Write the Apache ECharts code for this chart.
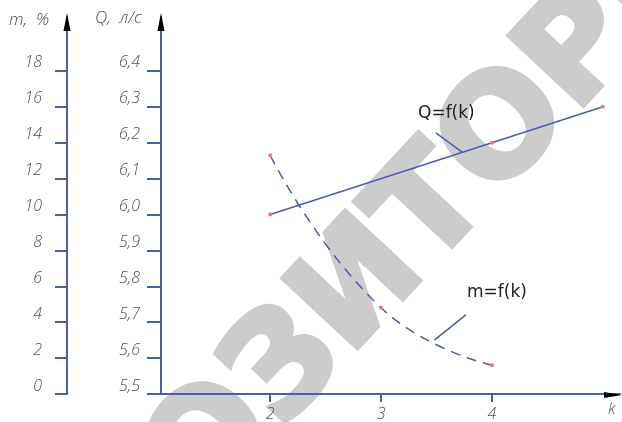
<!DOCTYPE html>
<html>
<head>
<meta charset="utf-8">
<script src="https://cdn.jsdelivr.net/npm/echarts@6/dist/echarts.min.js"></script>
<style>
  html, body { margin: 0; padding: 0; background: #ffffff; }
  #chart { width: 622px; height: 422px; }
</style>
</head>
<body>
<div id="chart"></div>
<script>
// Coefficient k (abscissa)
const kTicks = [2, 3, 4];
// Flow rate Q, l/s, against k
const qK = [2, 4, 5];
const qValues = [6.0, 6.2, 6.3];
// Share m, %, against k
const mK = [2, 3, 4];
const mValues = [13.3, 4.8, 1.6];
// Axis tick values
const qTicks = [5.5, 5.6, 5.7, 5.8, 5.9, 6.0, 6.1, 6.2, 6.3, 6.4];
const mTicks = [0, 2, 4, 6, 8, 10, 12, 14, 16, 18];

// Leader lines for the curve captions, in data coordinates
const qLeader = [[3.494, 6.227], [3.734, 6.173]];
const mLeader = [[3.764, 4.41], [3.481, 3.0]];

const BLUE = '#4a5cb0';
const MARK = '#f07878';
const TXT = '#505050';
const LABEL_FONT = { fontFamily: 'Open Sans', fontStyle: 'italic', fontWeight: 300, fontSize: 16, color: TXT };

const GRID = { left: 161, right: 2, top: 17, bottom: 27 };
const W = 622, H = 422;
const axisBottom = H - GRID.bottom;

const pairs = (xs, ys) => xs.map((x, i) => [x, ys[i]]);
const comma = v => String(v).replace('.', ',');

const chart = echarts.init(document.getElementById('chart'), null, { renderer: 'canvas' });

const arrowUp = (x, y) => ({
  type: 'polygon', z: 100,
  shape: { points: [[x, y - 2], [x - 3.5, y + 16], [x + 3.5, y + 16]] },
  style: { fill: '#000' }
});
const arrowRight = (x, y) => ({
  type: 'polygon', z: 100,
  shape: { points: [[x + 2, y], [x - 16, y - 3], [x - 16, y + 3]] },
  style: { fill: '#000' }
});

chart.setOption({
  animation: false,
  backgroundColor: '#ffffff',
  grid: GRID,
  xAxis: {
    type: 'value',
    min: 1.015, max: 5.155,
    splitLine: { show: false },
    axisLine: { lineStyle: { color: BLUE, width: 2 } },
    axisTick: { show: true, length: 8, lineStyle: { color: BLUE, width: 2 }, customValues: kTicks },
    axisLabel: Object.assign({ margin: 12, customValues: kTicks, formatter: v => comma(v) }, LABEL_FONT)
  },
  yAxis: [
    {
      type: 'value', position: 'left', offset: 0,
      min: 5.5, max: 6.55,
      splitLine: { show: false },
      axisLine: { show: true, lineStyle: { color: BLUE, width: 2 } },
      axisTick: { show: true, length: 14, lineStyle: { color: BLUE, width: 2 }, customValues: qTicks },
      axisLabel: Object.assign({ margin: 21, verticalAlign: 'bottom', customValues: qTicks,
        formatter: v => comma(v.toFixed(1)) }, LABEL_FONT)
    },
    {
      type: 'value', position: 'left', offset: 94,
      min: 0, max: 21,
      splitLine: { show: false },
      axisLine: { show: true, lineStyle: { color: BLUE, width: 2 } },
      axisTick: { show: true, length: 12, lineStyle: { color: BLUE, width: 2 }, customValues: mTicks },
      axisLabel: Object.assign({ margin: 25, verticalAlign: 'bottom', customValues: mTicks,
        formatter: v => String(Math.round(v)) }, LABEL_FONT)
    }
  ],
  series: [
    {
      name: 'Q=f(k)', type: 'line', yAxisIndex: 0,
      data: pairs(qK, qValues),
      symbol: 'circle', symbolSize: 4,
      itemStyle: { color: MARK },
      lineStyle: { color: BLUE, width: 1.5 },
      markLine: {
        silent: true, symbol: 'none', label: { show: false },
        lineStyle: { color: BLUE, width: 1.5, type: 'solid' },
        data: [[{ coord: qLeader[0] }, { coord: qLeader[1] }]]
      }
    },
    {
      name: 'm=f(k)', type: 'line', yAxisIndex: 1,
      data: pairs(mK, mValues),
      smooth: 0.5,
      symbol: 'circle', symbolSize: 4,
      itemStyle: { color: MARK },
      lineStyle: { color: BLUE, width: 1.5, type: [10, 7] },
      markLine: {
        silent: true, symbol: 'none', label: { show: false },
        lineStyle: { color: BLUE, width: 1.5, type: 'solid' },
        data: [[{ coord: mLeader[0] }, { coord: mLeader[1] }]]
      }
    }
  ],
  graphic: [
    {
      type: 'text', z: -10, x: 368, y: 283, rotation: 47 * Math.PI / 180,
      style: { text: 'РЕПОЗИТОРИЙ', font: 'bold 140px "DejaVu Sans"', fill: '#cccccc',
        stroke: '#cccccc', lineWidth: 5,
        textAlign: 'center', textVerticalAlign: 'middle' }
    },
    { type: 'text', left: 9, top: 12, style: { text: 'm,  %', fill: TXT,
      font: 'italic 300 17px "Open Sans"' } },
    { type: 'text', left: 95, top: 10, style: { text: 'Q,  л/с', fill: TXT,
      font: 'italic 300 17px "Open Sans"' } },
    { type: 'text', left: 608, top: 401, style: { text: 'k', fill: TXT,
      font: 'italic 300 16px "Open Sans"' } },
    { type: 'text', left: 418, top: 105, style: { text: 'Q=f(k)', fill: '#222',
      font: '17px "DejaVu Sans"' } },
    { type: 'text', left: 467, top: 284, style: { text: 'm=f(k)', fill: '#222',
      font: '17px "DejaVu Sans"' } },
    arrowUp(GRID.left, GRID.top - 2),
    arrowUp(GRID.left - 94, GRID.top - 2),
    arrowRight(W - GRID.right, axisBottom)
  ]
});
</script>
</body>
</html>
